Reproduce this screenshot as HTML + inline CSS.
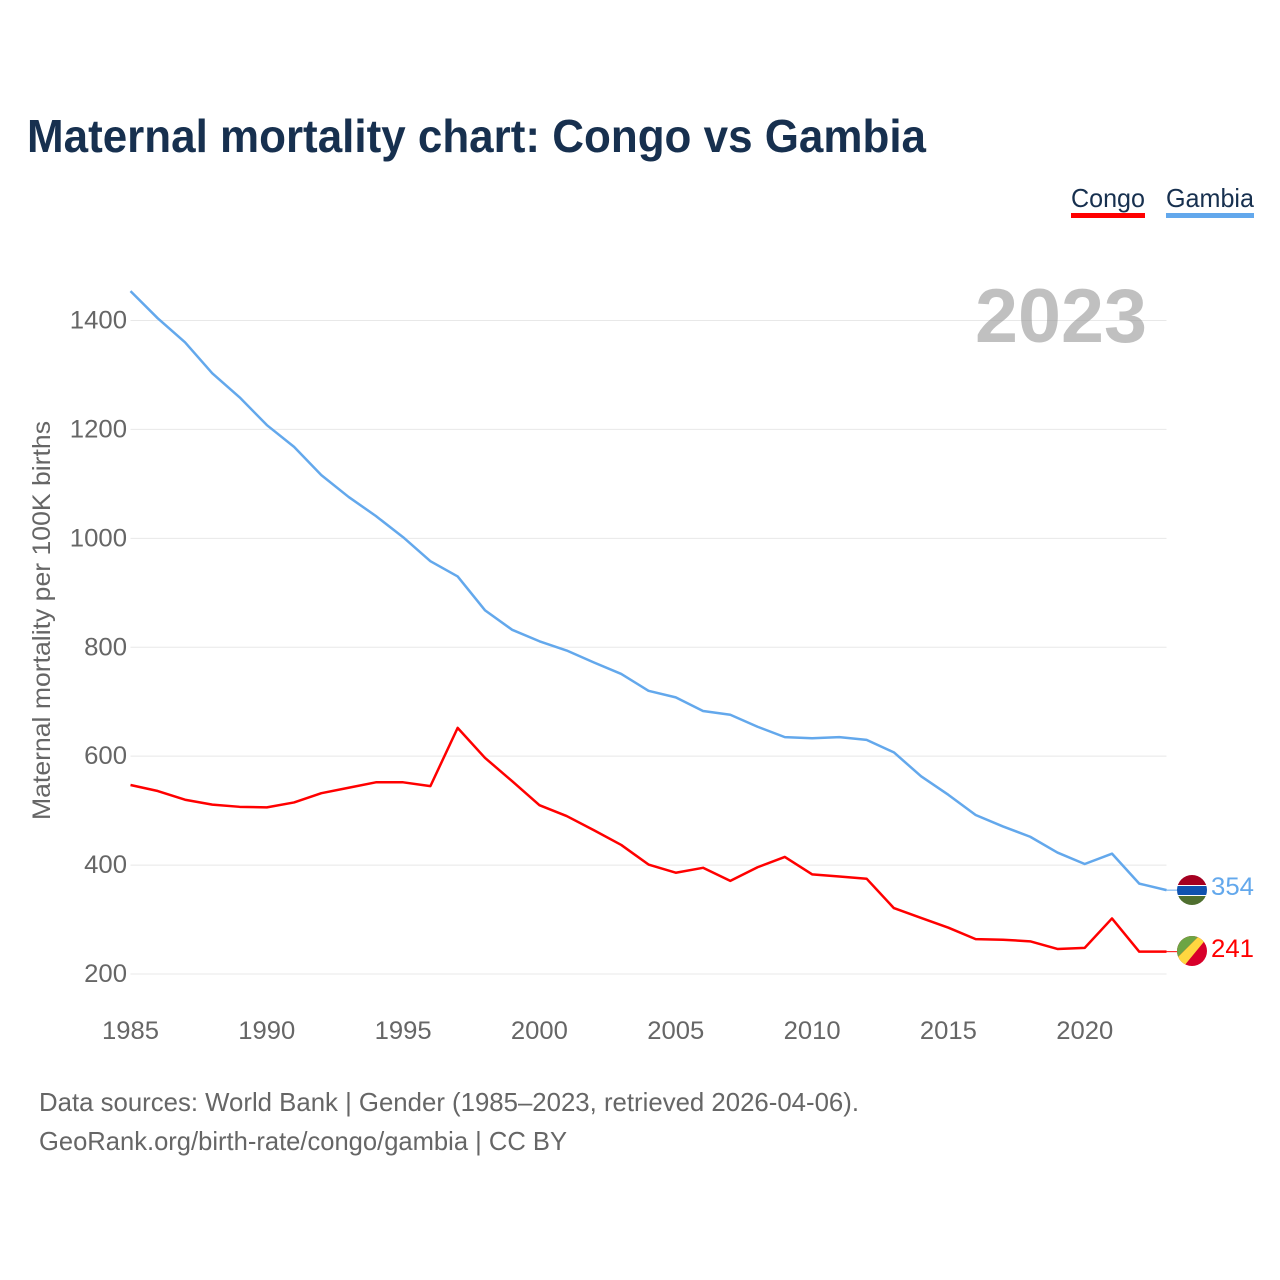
<!DOCTYPE html>
<html lang="en">
<head>
<meta charset="utf-8">
<title>Maternal mortality chart: Congo vs Gambia</title>
<style>
html,body{margin:0;padding:0;background:#fff;width:1280px;height:1280px;overflow:hidden}
svg{display:block}
text{font-family:"Liberation Sans",sans-serif}
</style>
</head>
<body>
<svg id="chart" xmlns="http://www.w3.org/2000/svg" width="1280" height="1280" viewBox="0 0 1280 1280">
  <rect width="1280" height="1280" fill="#fff"/>
  <text x="27" y="152" font-size="46" font-weight="700" fill="#17304f" textLength="899" lengthAdjust="spacingAndGlyphs">Maternal mortality chart: Congo vs Gambia</text>

  <g>
    <text x="1071" y="207" font-size="26" fill="#17304f" textLength="74" lengthAdjust="spacingAndGlyphs">Congo</text>
    <rect x="1071" y="213" width="74" height="5" fill="#ff0000"/>
  </g>
  <g>
    <text x="1166" y="207" font-size="26" fill="#17304f" textLength="88" lengthAdjust="spacingAndGlyphs">Gambia</text>
    <rect x="1166" y="213" width="88" height="5" fill="#63a8ec"/>
  </g>

  <g id="grid"></g>
  <g id="yticks"></g>
  <g id="xticks"></g>

  <text x="1147" y="342" text-anchor="end" font-size="76" font-weight="700" fill="#999" fill-opacity="0.62" textLength="172" lengthAdjust="spacingAndGlyphs">2023</text>

  <text transform="translate(50 620.5) rotate(-90)" text-anchor="middle" font-size="25" fill="#666" textLength="399" lengthAdjust="spacingAndGlyphs">Maternal mortality per 100K births</text>

  <g id="series"></g>

  <g id="flag-gambia">
    <clipPath id="clip-gambia"><circle cx="1192" cy="890" r="15"/></clipPath>
    <g clip-path="url(#clip-gambia)">
      <rect x="1177" y="875" width="30" height="10" fill="#a50021"/>
      <rect x="1177" y="885" width="30" height="1" fill="#fff"/>
      <rect x="1177" y="886" width="30" height="9" fill="#0f52b0"/>
      <rect x="1177" y="895" width="30" height="1" fill="#fff"/>
      <rect x="1177" y="896" width="30" height="9" fill="#4f6f2f"/>
    </g>
  </g>
  <g id="flag-congo">
    <clipPath id="clip-congo"><circle cx="1192" cy="951" r="15"/></clipPath>
    <g clip-path="url(#clip-congo)">
      <rect x="1177" y="936" width="30" height="30" fill="#d8002a"/>
      <polygon points="1177,936 1199,936 1177,958" fill="#6da544"/>
      <polygon points="1199,936 1207,936 1207,938 1184,966 1177,966 1177,958" fill="#ffd740"/>
    </g>
  </g>

  <text id="value-gambia" x="1211" y="895" font-size="25" fill="#63a8ec" textLength="43" lengthAdjust="spacingAndGlyphs">354</text>
  <text id="value-congo" x="1211" y="957" font-size="25" fill="#ff0000" textLength="43" lengthAdjust="spacingAndGlyphs">241</text>

  <text x="39" y="1111" font-size="26" fill="#666" textLength="820" lengthAdjust="spacingAndGlyphs">Data sources: World Bank | Gender (1985–2023, retrieved 2026-04-06).</text>
  <text x="39" y="1150" font-size="26" fill="#666" textLength="528" lengthAdjust="spacingAndGlyphs">GeoRank.org/birth-rate/congo/gambia | CC BY</text>
</svg>
<script>
const years = [1985,1986,1987,1988,1989,1990,1991,1992,1993,1994,1995,1996,1997,1998,1999,2000,2001,2002,2003,2004,2005,2006,2007,2008,2009,2010,2011,2012,2013,2014,2015,2016,2017,2018,2019,2020,2021,2022,2023];
const gambiaValues = [1454,1404,1360,1303,1259,1208,1168,1116,1076,1041,1002,958,930,868,832,811,794,772,751,720,708,683,676,654,635,633,635,630,607,563,529,492,471,452,423,402,421,366,354];
const congoValues = [547,536,520,511,507,506,515,532,542,552,552,545,652,597,554,510,490,464,437,401,386,395,371,396,415,383,379,375,321,303,285,264,263,260,246,248,302,241,241];
const yTickValues = [200,400,600,800,1000,1200,1400];
const xTickValues = [1985,1990,1995,2000,2005,2010,2015,2020];

const NS = 'http://www.w3.org/2000/svg';
const plotLeft = 130.5, plotRight = 1166.5;
function xScale(year) {
  return plotLeft + (year - 1985) * (plotRight - plotLeft) / (2023 - 1985);
}
function yScale(value) {
  return 974 - (value - 200) * (974 - 320.5) / (1400 - 200);
}
function make(tag, attrs) {
  const el = document.createElementNS(NS, tag);
  for (const k in attrs) el.setAttribute(k, attrs[k]);
  return el;
}

const grid = document.getElementById('grid');
const yticks = document.getElementById('yticks');
yTickValues.forEach(function (v) {
  const line = make('line', {x1: plotLeft, x2: plotRight, y1: yScale(v), y2: yScale(v), stroke: '#e8e8e8', 'stroke-width': 1});
  
  
  grid.appendChild(line);
  const label = make('text', {x: 127, y: yScale(v) + 8, 'text-anchor': 'end', 'font-size': 25, fill: '#666', textLength: String(v).length * 14.3, lengthAdjust: 'spacingAndGlyphs'});
  
  
  label.textContent = v;
  yticks.appendChild(label);
});

const xticks = document.getElementById('xticks');
xTickValues.forEach(function (yr) {
  const label = make('text', {x: xScale(yr), y: 1039, 'text-anchor': 'middle', 'font-size': 25, fill: '#666', textLength: 57, lengthAdjust: 'spacingAndGlyphs'});
  
  
  label.textContent = yr;
  xticks.appendChild(label);
});

const series = document.getElementById('series');
function drawSeries(values, color, name) {
  const pts = values.map(function (v, i) { return xScale(years[i]) + ',' + yScale(v); }).join(' ');
  const line = make('polyline', {points: pts, fill: 'none', stroke: color, 'stroke-width': 2.5, 'stroke-linejoin': 'round'});
  
  
  series.appendChild(line);
  const last = yScale(values[values.length - 1]);
  const connector = make('line', {x1: plotRight, x2: 1177, y1: last, y2: last, stroke: color, 'stroke-width': 1});
  
  
  series.appendChild(connector);
}
drawSeries(congoValues, '#ff0000', 'congo');
drawSeries(gambiaValues, '#63a8ec', 'gambia');

document.getElementById('value-gambia').textContent = gambiaValues[gambiaValues.length - 1];
document.getElementById('value-congo').textContent = congoValues[congoValues.length - 1];
</script>
</body>
</html>
